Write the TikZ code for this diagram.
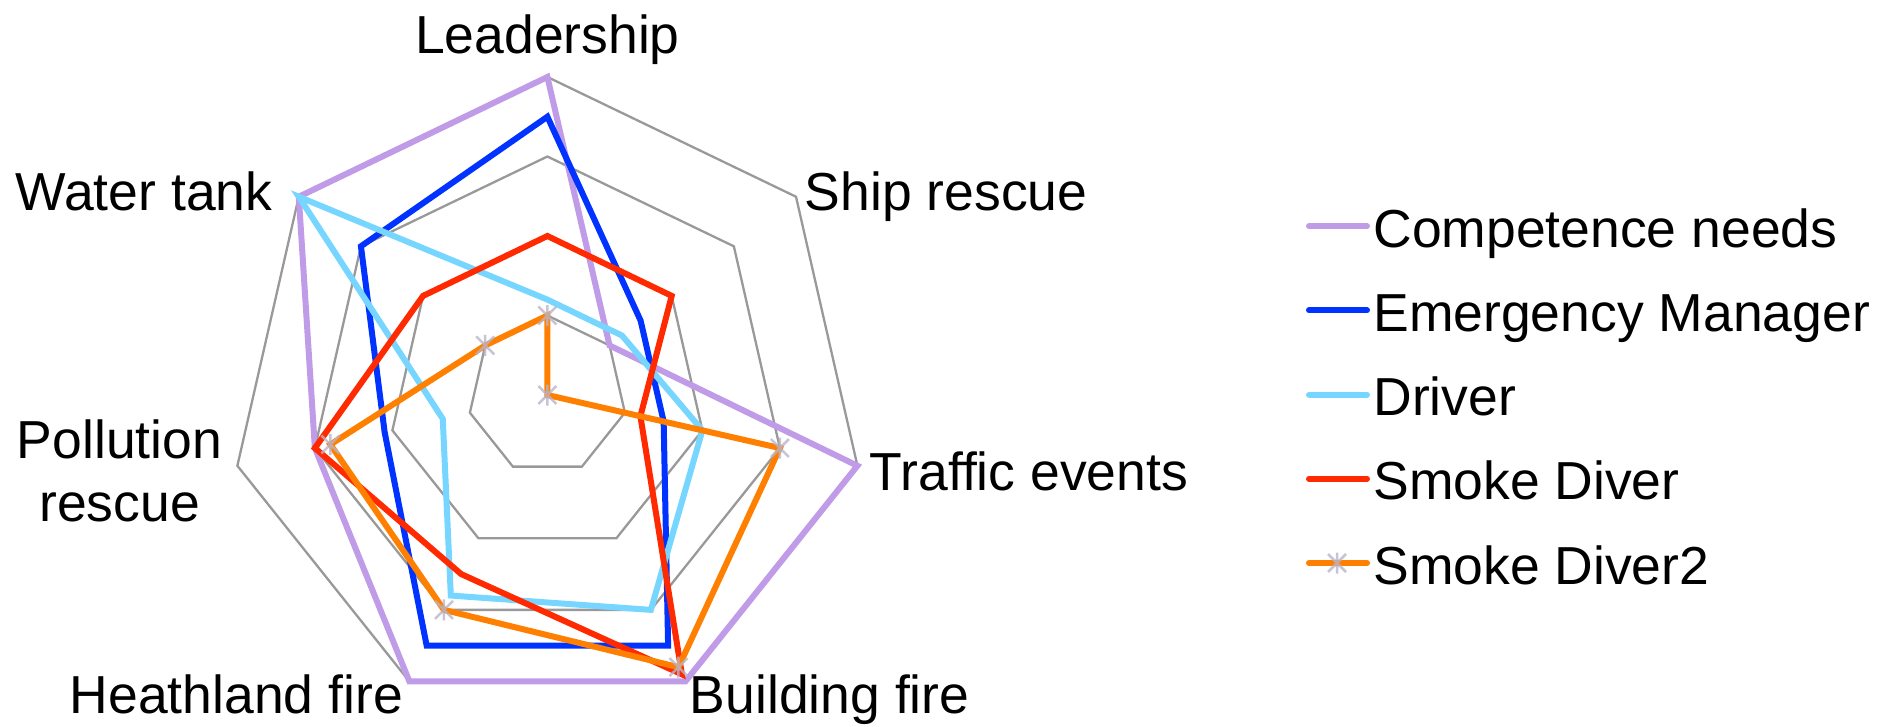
\documentclass[tikz,border=0pt]{standalone}
\usepackage{fontspec}
\setmainfont{Liberation Sans}
\definecolor{cpurple}{HTML}{C09BE8}
\definecolor{cblue}{HTML}{0033FF}
\definecolor{clight}{HTML}{77D6FF}
\definecolor{cred}{HTML}{FF2A00}
\definecolor{corange}{HTML}{FF7F00}
\definecolor{gridgray}{HTML}{999999}
\definecolor{markgray}{HTML}{B8B5CB}
\newcommand{\unitr}{79.5}
\newcommand{\radarpath}[8]{\draw[#1] (90:#2*\unitr) -- (38.5714:#3*\unitr) -- (-12.8571:#4*\unitr) -- (-64.2857:#5*\unitr) -- (-115.7143:#6*\unitr) -- (-167.1429:#7*\unitr) -- (141.4286:#8*\unitr) -- cycle;}
\begin{document}
\begin{tikzpicture}[x=1pt,y=1pt,
  gridline/.style={draw=gridgray, line width=2.3, line join=miter},
  series/.style={line width=6, line join=miter, miter limit=10},
  lab/.style={font=\fontsize{53.5}{60}\selectfont, inner sep=0pt, outer sep=0pt},
  legline/.style={line width=6, line cap=round},
  starmark/.pic={\draw[markgray, line width=2.5, opacity=0.8, line cap=butt] (0,-10.5) -- (0,10.5) (-9,-9) -- (9,9) (-9,9) -- (9,-9);}
]
\useasboundingbox (-547.4,-331) rectangle (1355.6,395);

% grid rings
\foreach \r in {1,2,3,4}{
  \radarpath{gridline}{\r}{\r}{\r}{\r}{\r}{\r}{\r}
}

% series
\radarpath{series, cpurple}{4}{1}{4}{4}{4}{3}{4}
\radarpath{series, cblue}{3.5}{1.5}{1.5}{3.5}{3.5}{2.1}{3}
\radarpath{series, clight}{1.2}{1.2}{2.0}{3}{2.8}{1.35}{4}
\radarpath{series, cred}{2}{2}{1.2}{3.9}{2.5}{3}{2}
\radarpath{series, corange}{1}{0}{3}{3.8}{3}{2.8}{1}
\foreach \a/\v in {90/1, 38.5714/0, -12.8571/3, -64.2857/3.8, -115.7143/3, -167.1429/2.8, 141.4286/1}{
  \path (\a:\v*\unitr) pic {starmark};
}

% axis labels
\node[lab, anchor=base] (lead) at (0,341.7) {Leadership};
\node[lab, anchor=base west] (ship) at (257.5,184) {Ship rescue};
\node[lab, anchor=base west] (traffic) at (322.5,-95) {Traffic events};
\node[lab, anchor=base west] (build) at (142.5,-318.3) {Building fire};
\node[lab, anchor=base east] (heath) at (-144.5,-318.3) {Heathland fire};
\node[lab, anchor=base] (poll1) at (-427.9,-63.3) {Pollution};
\node[lab, anchor=base] (poll2) at (-427.9,-126) {rescue};
\node[lab, anchor=base east] (water) at (-275,184) {Water tank};

% legend
\coordinate (l1a) at (761.6,168.8); \coordinate (l1b) at (819.6,168.8);
\coordinate (l2a) at (761.6,84.6);  \coordinate (l2b) at (819.6,84.6);
\coordinate (l3a) at (761.6,0.4);   \coordinate (l3b) at (819.6,0.4);
\coordinate (l4a) at (761.6,-83.8); \coordinate (l4b) at (819.6,-83.8);
\coordinate (l5a) at (761.6,-168);  \coordinate (l5b) at (819.6,-168);
\draw[legline, cpurple] (l1a) -- (l1b);
\draw[legline, cblue] (l2a) -- (l2b);
\draw[legline, clight] (l3a) -- (l3b);
\draw[legline, cred] (l4a) -- (l4b);
\draw[legline, corange] (l5a) -- (l5b);
\path (789.6,-168) pic {starmark};
\node[lab, anchor=base west] (g1) at (826,147.8) {Competence needs};
\node[lab, anchor=base west] (g2) at (826,63.6) {Emergency Manager};
\node[lab, anchor=base west] (g3) at (826,-20.6) {Driver};
\node[lab, anchor=base west] (g4) at (826,-104.8) {Smoke Diver};
\node[lab, anchor=base west] (g5) at (826,-189) {Smoke Diver2};
\end{tikzpicture}
\end{document}
